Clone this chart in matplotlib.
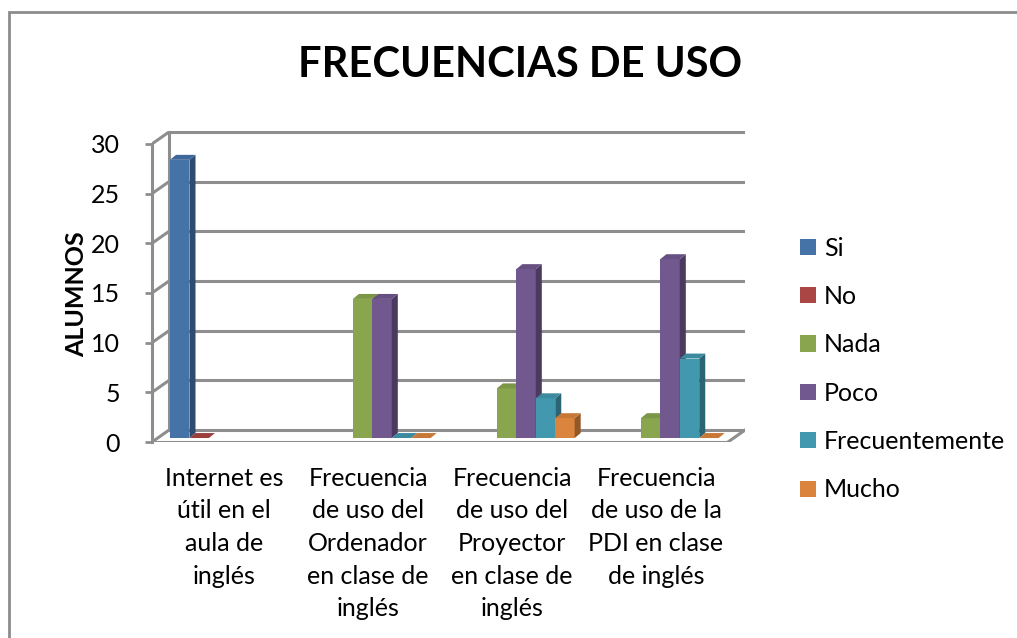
import numpy as np
import matplotlib
matplotlib.use("Agg")
import matplotlib.pyplot as plt
from matplotlib.patches import Polygon, Rectangle

# data
categories = ["Internet es\nútil en el\naula de\ninglés",
              "Frecuencia\nde uso del\nOrdenador\nen clase de\ninglés",
              "Frecuencia\nde uso del\nProyector\nen clase de\ninglés",
              "Frecuencia\nde uso de la\nPDI en clase\nde inglés"]
series = ["Si", "No", "Nada", "Poco", "Frecuentemente", "Mucho"]
si = [28, None, None, None]
no = [0, None, None, None]
nada = [None, 14, 5, 2]
poco = [None, 14, 17, 18]
frecuentemente = [None, 0, 4, 8]
mucho = [None, 0, 2, 0]
yticks = [0, 5, 10, 15, 20, 25, 30]

values = [si, no, nada, poco, frecuentemente, mucho]
front = ["#4572A7", "#AA4643", "#89A54E", "#71588F", "#4198AF", "#DB843D"]
side = ["#2E4B70", "#722F2D", "#5C6E34", "#4B3A5F", "#2B6575", "#935828"]
top = ["#3F679A", "#9A3F3C", "#7C9647", "#665081", "#3B8AA0", "#C87836"]

plt.rcParams['font.family'] = ['Lato', 'DejaVu Sans']

fig = plt.figure(figsize=(10.17, 6.38), dpi=100)
W, H = 1017, 638
ax = fig.add_axes([152 / W, (638 - 442) / H, 593 / W, 311 / H])
ax.set_xlim(-0.5, 3.618)
ax.set_ylim(0, 31.3)

# 3d-ish walls
wdx, wdy = 0.118, 1.2
grid_c = "#8E8E8E"
for t in yticks:
    ax.plot([-0.5 + wdx, 3.5 + wdx], [t + wdy, t + wdy], color=grid_c, lw=2.2, zorder=1,
            solid_capstyle='butt')
    ax.plot([-0.5, -0.5 + wdx], [t, t + wdy], color=grid_c, lw=2.2, zorder=1)
ax.plot([-0.5 + wdx, -0.5 + wdx], [wdy, 30 + wdy], color=grid_c, lw=2.2, zorder=1)
ax.plot([-0.5, 3.5], [0, 0], color=grid_c, lw=2.2, zorder=1)
ax.plot([3.5, 3.5 + wdx], [0, wdy], color=grid_c, lw=2.2, zorder=1)

# bars
n = len(series)
w = 0.135
bdx, bdy = 0.042, 0.5
base = 0.4
x = np.arange(len(categories))
for i, (name, vals) in enumerate(zip(series, values)):
    for j, v in enumerate(vals):
        if v is None:
            continue
        x0 = x[j] + (i - (n - 1) / 2) * w - w / 2 + 0.03
        if v > 0:
            ax.add_patch(Rectangle((x0, base), w, v, facecolor=front[i], edgecolor='none', zorder=3))
            ax.add_patch(Polygon([(x0 + w, base), (x0 + w + bdx, base + bdy),
                                  (x0 + w + bdx, base + v + bdy), (x0 + w, base + v)],
                                 facecolor=side[i], edgecolor='none', zorder=3))
        ax.add_patch(Polygon([(x0, base + v), (x0 + bdx, base + v + bdy),
                              (x0 + w + bdx, base + v + bdy), (x0 + w, base + v)],
                             facecolor=top[i], edgecolor='none', zorder=3))
    ax.bar([0], [0], width=0, color=front[i], label=name)

for s in ['top', 'right', 'bottom']:
    ax.spines[s].set_visible(False)
ax.spines['left'].set_bounds(0, 30)
ax.spines['left'].set_color(grid_c)
ax.spines['left'].set_linewidth(2.2)
ax.set_yticks(yticks)
ax.tick_params(axis='y', length=5, width=2, color=grid_c, labelsize=18, pad=18)
ax.set_xticks(x)
ax.set_xticklabels(categories, fontsize=18, linespacing=1.5)
ax.tick_params(axis='x', length=0, pad=18)
ax.set_ylabel("ALUMNOS", fontsize=18, fontweight='bold')
ax.yaxis.set_label_coords(-0.108, 0.475)

fig.text(520 / W, (638 - 65) / H, "FRECUENCIAS DE USO", fontsize=30, fontweight='bold',
         ha='center', va='center')

fig.legend(loc='center left', bbox_to_anchor=(800 / W, (638 - 369) / H), frameon=False,
           fontsize=18, handlelength=0.62, handleheight=0.62, handletextpad=0.35,
           labelspacing=1.015, borderpad=0, borderaxespad=0)

# chart area border
fig.patches.append(Rectangle((9 / W, -0.1), 1.0, 0.1 + (638 - 12) / H, transform=fig.transFigure,
                             facecolor='none', edgecolor="#8C8C8C", lw=2, figure=fig))

fig.savefig("out.png", dpi=100)
